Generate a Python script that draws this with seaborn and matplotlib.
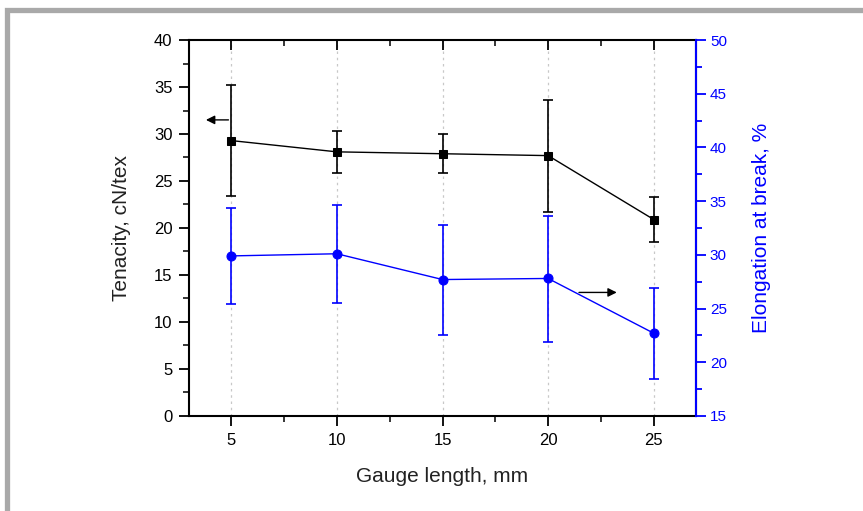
import numpy as np
import pandas as pd
import matplotlib
matplotlib.use("Agg")
import matplotlib.pyplot as plt
from matplotlib.patches import Rectangle
from matplotlib.ticker import MultipleLocator
import seaborn as sns

# gauge length, mm
gauge = [5, 10, 15, 20, 25]

# tenacity, cN/tex (mean, lower and upper error bar ends)
tenacity = [29.3, 28.1, 27.9, 27.7, 20.9]
ten_low = [23.4, 25.8, 25.9, 21.7, 18.5]
ten_high = [35.2, 30.3, 30.0, 33.6, 23.3]

# elongation at break, %
elong = [29.9, 30.1, 27.7, 27.8, 22.7]
el_low = [25.4, 25.5, 22.5, 21.9, 18.4]
el_high = [34.4, 34.6, 32.8, 33.6, 26.9]

df = pd.DataFrame({"gauge": gauge, "tenacity": tenacity, "elong": elong})

sns.set_style("ticks")
plt.rcParams["font.family"] = ["Liberation Sans", "DejaVu Sans"]

BLUE = "#0000ff"
fig = plt.figure(figsize=(8.63, 5.11), dpi=100)
ax = fig.add_axes([0.219, 0.186, 0.5875, 0.7357])

# grey frame, only top and left bands visible
fig.patches.append(Rectangle((6.5 / 863, -0.2), 2, 1.2 - 9.5 / 511, transform=fig.transFigure,
                             facecolor="none", edgecolor="#a9a9a9", lw=3.8, zorder=0))

ten_err = [np.array(tenacity) - np.array(ten_low), np.array(ten_high) - np.array(tenacity)]
ax.errorbar(gauge, tenacity, yerr=ten_err, fmt="none", ecolor="black", elinewidth=1.2,
            capsize=3.5, capthick=1.2, zorder=3)
sns.lineplot(data=df, x="gauge", y="tenacity", ax=ax, color="black", marker="s",
             markersize=5.5, markeredgecolor="black", linewidth=1.0, zorder=4)

ax.set_xlim(3, 27)
ax.set_ylim(0, 40)
ax.xaxis.set_major_locator(MultipleLocator(5))
ax.xaxis.set_minor_locator(MultipleLocator(2.5))
ax.yaxis.set_major_locator(MultipleLocator(5))
ax.yaxis.set_minor_locator(MultipleLocator(2.5))
ax.grid(axis="x", which="major", color="#c8c8c8", linestyle=(0, (2, 3)), lw=0.9)
ax.tick_params(axis="both", which="major", length=7, width=1.3, labelsize=12, colors="black", pad=5)
ax.tick_params(axis="both", which="minor", length=4, width=1.3)
ax.tick_params(axis="x", which="both", top=True, labeltop=False)
for s in ax.spines.values():
    s.set_linewidth(1.5)
    s.set_color("black")
ax.set_xlabel("Gauge length, mm", fontsize=15, color="#222222", labelpad=14)
ax.set_ylabel("Tenacity, cN/tex", fontsize=15, color="#222222", labelpad=16)

ax.annotate("", xy=(3.67, 31.5), xytext=(5, 31.5),
            arrowprops=dict(arrowstyle="-|>", color="black", lw=1, mutation_scale=13))

ax2 = ax.twinx()
el_err = [np.array(elong) - np.array(el_low), np.array(el_high) - np.array(elong)]
ax2.errorbar(gauge, elong, yerr=el_err, fmt="none", ecolor=BLUE, elinewidth=1.2,
             capsize=3.5, capthick=1.2, zorder=3)
sns.lineplot(data=df, x="gauge", y="elong", ax=ax2, color=BLUE, marker="o",
             markersize=6.5, markeredgecolor=BLUE, linewidth=1.0, zorder=4)
ax2.set_ylim(15, 50)
ax2.yaxis.set_major_locator(MultipleLocator(5))
ax2.yaxis.set_minor_locator(MultipleLocator(2.5))
ax2.tick_params(axis="y", which="major", length=7, width=1.3, labelsize=11, colors=BLUE, pad=3)
ax2.tick_params(axis="y", which="minor", length=4, width=1.3, colors=BLUE)
ax2.spines["right"].set_color(BLUE)
ax2.spines["right"].set_linewidth(1.5)
for side in ["top", "left", "bottom"]:
    ax2.spines[side].set_visible(False)
ax2.set_ylabel("Elongation at break, %", fontsize=15, color=BLUE, labelpad=18)

ax2.annotate("", xy=(23.38, 26.5), xytext=(21.33, 26.5),
             arrowprops=dict(arrowstyle="-|>", color="black", lw=1, mutation_scale=13))

# top ticks point inward
for t in ax.xaxis.get_major_ticks() + ax.xaxis.get_minor_ticks():
    t.tick2line.set_marker(3)

fig.savefig("out.png", dpi=100)
